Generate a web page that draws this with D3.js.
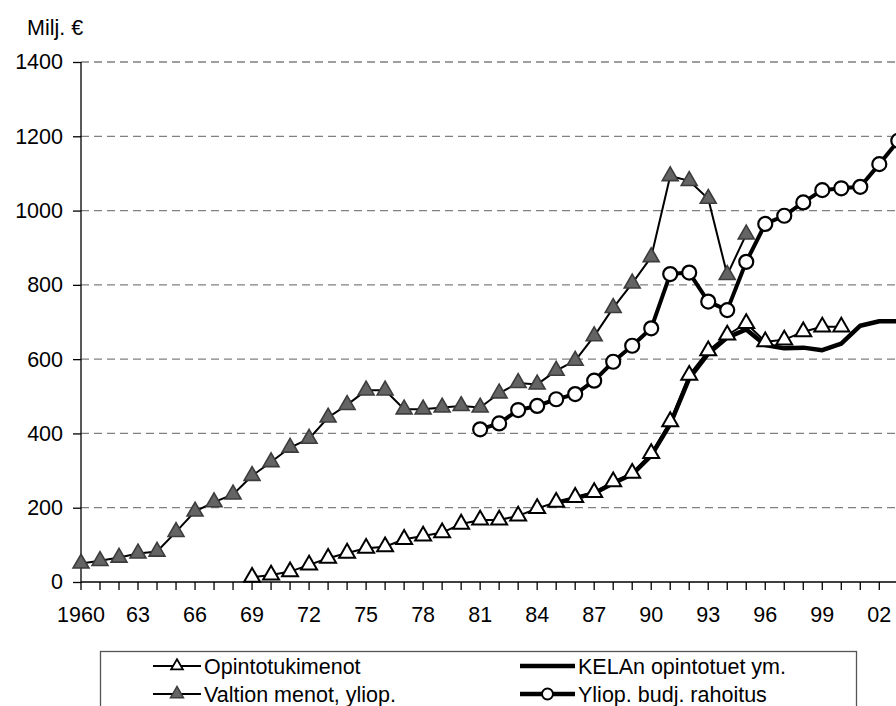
<!DOCTYPE html>
<html><head><meta charset="utf-8">
<script src="https://cdn.jsdelivr.net/npm/d3@7"></script>
<style>body{margin:0;background:#fff}svg{display:block}text{font-family:"Liberation Sans",Arial,sans-serif;fill:#000}</style>
</head><body>
<script>
// Data
const yTicks = [0,200,400,600,800,1000,1200,1400];
const xTickYears = [1960,1963,1966,1969,1972,1975,1978,1981,1984,1987,1990,1993,1996,1999,2002];
const xTickLabels = ["1960","63","66","69","72","75","78","81","84","87","90","93","96","99","02"];
const valtionStart = 1960;
const valtion = [50,57,66,77,82,135,190,215,236,286,323,362,386,443,477,516,516,465,465,470,474,470,508,536,532,569,596,662,738,804,875,1093,1080,1032,827,936];
const opintoStart = 1969;
const opinto = [13,19,28,46,64,78,91,95,115,124,133,156,167,167,178,198,215,228,241,270,293,346,432,557,623,665,696,647,652,674,687,687];
const kelaStart = 1985;
const kela = [213,226,239,266,290,340,425,548,615,658,680,638,629,631,624,642,690,702,702];
const yliopStart = 1981;
const yliop = [411,427,463,474,492,506,542,593,636,683,829,833,755,732,862,964,986,1022,1055,1060,1064,1125,1188];
const legendNames = ["Opintotukimenot","Valtion menot, yliop.","KELAn opintotuet ym.","Yliop. budj. rahoitus"];

const W=896,H=706,FS=21.5;
const svg=d3.select("body").append("svg").attr("width",W).attr("height",H);
const x=d3.scaleLinear().domain([1960,2003]).range([81,898.3]);
const y=d3.scaleLinear().domain([0,1400]).range([582,62]);
const toPts=(start,arr)=>arr.map((v,i)=>({yr:start+i,v}));

// gridlines
svg.append("g").selectAll("line").data(yTicks.filter(d=>d>0)).join("line")
  .attr("x1",81).attr("x2",W).attr("y1",d=>y(d)).attr("y2",d=>y(d))
  .attr("stroke","#808080").attr("stroke-width",1.3).attr("stroke-dasharray","8,5");

// y axis
const ya=svg.append("g").attr("transform","translate(81,0)")
  .call(d3.axisLeft(y).tickValues(yTicks).tickSize(8).tickPadding(10).tickFormat(d3.format("d")));
ya.attr("font-size",FS).attr("font-family","'Liberation Sans',Arial,sans-serif");
ya.select(".domain").attr("stroke","#000").attr("stroke-width",1.3).attr("d","M0,62V582");
ya.selectAll(".tick line").attr("stroke","#000").attr("stroke-width",1.3);
ya.selectAll("text").attr("font-size",FS).attr("fill","#000");

// x axis
const allYears=d3.range(1960,2004);
const xa=svg.append("g").attr("transform","translate(0,582)");
xa.append("line").attr("x1",81).attr("x2",W).attr("y1",0).attr("y2",0).attr("stroke","#000").attr("stroke-width",1.3);
xa.selectAll("line.t").data(allYears).join("line").attr("class","t")
  .attr("x1",d=>x(d)).attr("x2",d=>x(d)).attr("y1",0).attr("y2",8).attr("stroke","#000").attr("stroke-width",1.3);
xa.selectAll("text").data(xTickYears).join("text")
  .attr("x",d=>x(d)).attr("y",40).attr("text-anchor","middle").attr("font-size",FS)
  .text((d,i)=>xTickLabels[i]);

// y unit label
svg.append("text").attr("x",27).attr("y",35).attr("font-size",FS).text("Milj. €");

const line=d3.line().x(d=>x(d.yr)).y(d=>y(d.v));
const tri=d3.symbol().type(d3.symbolTriangle).size(110);

// KELA thick line
svg.append("path").datum(toPts(kelaStart,kela)).attr("d",line)
  .attr("fill","none").attr("stroke","#000").attr("stroke-width",4.5).attr("stroke-linejoin","round");

// Opintotukimenot
const op=toPts(opintoStart,opinto);
svg.append("path").datum(op).attr("d",line).attr("fill","none").attr("stroke","#000").attr("stroke-width",2);
svg.append("g").selectAll("path").data(op).join("path")
  .attr("d",tri).attr("transform",d=>`translate(${x(d.yr)},${y(d.v)})`)
  .attr("fill","#fff").attr("stroke","#000").attr("stroke-width",2);

// Valtion menot
const va=toPts(valtionStart,valtion);
svg.append("path").datum(va).attr("d",line).attr("fill","none").attr("stroke","#000").attr("stroke-width",2);
svg.append("g").selectAll("path").data(va).join("path")
  .attr("d",tri).attr("transform",d=>`translate(${x(d.yr)},${y(d.v)})`)
  .attr("fill","#646464").attr("stroke","#3c3c3c").attr("stroke-width",1.6);

// Yliop budj rahoitus
const yl=toPts(yliopStart,yliop);
svg.append("path").datum(yl).attr("d",line).attr("fill","none").attr("stroke","#000").attr("stroke-width",4).attr("stroke-linejoin","round");
svg.append("g").selectAll("circle").data(yl).join("circle")
  .attr("cx",d=>x(d.yr)).attr("cy",d=>y(d.v)).attr("r",7)
  .attr("fill","#fff").attr("stroke","#000").attr("stroke-width",2.2);

// Legend
const lg=svg.append("g");
lg.append("rect").attr("x",100.5).attr("y",651.5).attr("width",756).attr("height",80)
  .attr("fill","#fff").attr("stroke","#555").attr("stroke-width",1.3);
const rows=[
  {cy:666,name:legendNames[0],kind:"wtri"},
  {cy:694,name:legendNames[1],kind:"gtri"},
  {cy:666,name:legendNames[2],kind:"thick"},
  {cy:694,name:legendNames[3],kind:"circ"}
];
rows.forEach(r=>{
  const right=r.kind==="thick"||r.kind==="circ";
  const lx1=right?520:153, lx2=right?575:201;
  const cx=(lx1+lx2)/2;
  lg.append("line").attr("x1",lx1).attr("x2",lx2).attr("y1",r.cy).attr("y2",r.cy)
    .attr("stroke","#000").attr("stroke-width",right?4.5:2);
  if(r.kind==="wtri") lg.append("path").attr("d",d3.symbol().type(d3.symbolTriangle).size(60)).attr("transform",`translate(${cx},${r.cy})`).attr("fill","#fff").attr("stroke","#000").attr("stroke-width",1.8);
  if(r.kind==="gtri") lg.append("path").attr("d",d3.symbol().type(d3.symbolTriangle).size(75)).attr("transform",`translate(${cx},${r.cy})`).attr("fill","#646464").attr("stroke","#3c3c3c").attr("stroke-width",1.4);
  if(r.kind==="circ") lg.append("circle").attr("cx",cx).attr("cy",r.cy).attr("r",5.5).attr("fill","#fff").attr("stroke","#000").attr("stroke-width",2);
  lg.append("text").attr("x",lx2+3).attr("y",r.cy+7.5).attr("font-size",FS).text(r.name);
});
</script>
</body></html>
